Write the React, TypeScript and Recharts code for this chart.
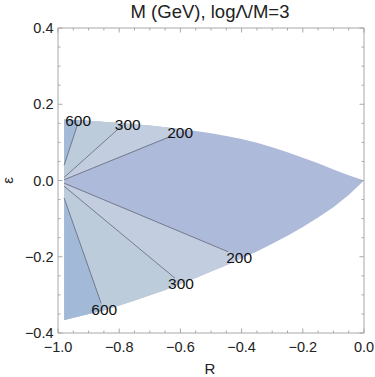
import { ComposedChart, Area, Line, Scatter, XAxis, YAxis, Label } from 'recharts';

// outer boundary of the allowed region
const upperR = [-0.98, -0.9, -0.8, -0.7, -0.6, -0.55, -0.5, -0.45, -0.4, -0.35, -0.3, -0.25, -0.2, -0.15, -0.1, -0.05, 0];
const upperEps = [0.16, 0.157, 0.151, 0.144, 0.135, 0.13, 0.124, 0.117, 0.109, 0.099, 0.087, 0.074, 0.06, 0.045, 0.029, 0.014, 0];
const lowerR = [-0.98, -0.9, -0.85, -0.8, -0.75, -0.7, -0.65, -0.6, -0.55, -0.5, -0.45, -0.4, -0.35, -0.3, -0.25, -0.2, -0.15, -0.1, -0.05, 0];
const lowerEps = [-0.366, -0.35, -0.34, -0.328, -0.315, -0.301, -0.287, -0.271, -0.256, -0.239, -0.222, -0.204, -0.186, -0.166, -0.145, -0.122, -0.097, -0.07, -0.038, 0];

// contours, M in GeV
const levels = ['600', '300', '200'];
const edgeR = -0.98;

// upper half: start on left edge, hit on boundary, visible end, label centre
const upStartEps = [0.04, 0.008, 0.002];
const upHitR = [-0.931, -0.783, -0.58];
const upHitEps = [0.158, 0.149, 0.133];
const upEndR = [-0.936, -0.788, -0.628];
const upEndEps = [0.147, 0.146, 0.117];
const upLabelR = [-0.934, -0.772, -0.601];
const upLabelEps = [0.157, 0.147, 0.127];

// lower half
const lowStartEps = [-0.046, -0.015, -0.007];
const lowHitR = [-0.851, -0.597, -0.395];
const lowHitEps = [-0.34, -0.27, -0.203];
const lowEndR = [-0.859, -0.618, -0.444];
const lowEndEps = [-0.322, -0.256, -0.187];
const lowLabelR = [-0.849, -0.598, -0.408];
const lowLabelEps = [-0.339, -0.269, -0.203];

// ticks
const xTicks = [-1, -0.95, -0.9, -0.85, -0.8, -0.75, -0.7, -0.65, -0.6, -0.55, -0.5, -0.45, -0.4, -0.35, -0.3, -0.25, -0.2, -0.15, -0.1, -0.05, 0];
const xMajor = [-1, -0.8, -0.6, -0.4, -0.2, 0];
const xLabels = ['\u22121.0', '\u22120.8', '\u22120.6', '\u22120.4', '\u22120.2', '0.0'];
const yTicks = [-0.4, -0.35, -0.3, -0.25, -0.2, -0.15, -0.1, -0.05, 0, 0.05, 0.1, 0.15, 0.2, 0.25, 0.3, 0.35, 0.4];
const yMajor = [-0.4, -0.2, 0, 0.2, 0.4];
const yLabels = ['\u22120.4', '\u22120.2', '0.0', '0.2', '0.4'];

// band colours: below 200, 200-300, 300-600, above 600
const BAND = ['#adbad9', '#c3cde0', '#bdccdb', '#a2bad8'];
const LINE = '#5d6070';
const FRAME = '#a8a8a8';
const FONT = 'Liberation Sans, Arial, sans-serif';

const pt = (R: number, e: number) => ({ R, e });

const outline = [
  ...upperR.map((r, i) => pt(r, upperEps[i])),
  ...lowerR.map((r, i) => pt(r, lowerEps[i])).reverse(),
  pt(upperR[0], upperEps[0]),
];

// wedge between a contour and the outer boundary, closed on itself
function wedge(start: number, hitR: number, hitE: number, bR: number[], bE: number[]) {
  const rest = bR.map((r, i) => pt(r, bE[i])).filter((p) => p.R < hitR).reverse();
  return [pt(edgeR, start), pt(hitR, hitE), ...rest, pt(edgeR, start)];
}

// painting order: 200 wedges, then 300, then 600
const wedges = [2, 1, 0].flatMap((k) => [
  { key: `u${k}`, fill: BAND[3 - k], data: wedge(upStartEps[k], upHitR[k], upHitEps[k], upperR, upperEps) },
  { key: `l${k}`, fill: BAND[3 - k], data: wedge(lowStartEps[k], lowHitR[k], lowHitEps[k], lowerR, lowerEps) },
]);

const contourLines = levels.flatMap((lv, k) => [
  { key: `cu${k}`, data: [pt(edgeR, upStartEps[k]), pt(upEndR[k], upEndEps[k])] },
  { key: `cl${k}`, data: [pt(edgeR, lowStartEps[k]), pt(lowEndR[k], lowEndEps[k])] },
]);

const labelPoints = levels.flatMap((lv, k) => [
  { R: upLabelR[k], e: upLabelEps[k], label: lv },
  { R: lowLabelR[k], e: lowLabelEps[k], label: lv },
]);

const findIdx = (list: number[], v: number) => list.findIndex((m) => Math.abs(m - v) < 1e-6);

function BottomTick({ x, y, payload }: any) {
  const i = findIdx(xMajor, payload.value);
  return (
    <g>
      <line x1={x} y1={y} x2={x} y2={y - (i >= 0 ? 4.5 : 2.5)} stroke={FRAME} />
      {i >= 0 && (
        <text x={x} y={y + 19} textAnchor="middle" fontSize={14.5} fontFamily={FONT} fill="#222">
          {xLabels[i]}
        </text>
      )}
    </g>
  );
}

function TopTick({ x, y, payload }: any) {
  const i = findIdx(xMajor, payload.value);
  return <line x1={x} y1={y} x2={x} y2={y + (i >= 0 ? 4.5 : 2.5)} stroke={FRAME} />;
}

function LeftTick({ x, y, payload }: any) {
  const i = findIdx(yMajor, payload.value);
  return (
    <g>
      <line x1={x} y1={y} x2={x + (i >= 0 ? 4.5 : 2.5)} y2={y} stroke={FRAME} />
      {i >= 0 && (
        <text x={x - 4.5} y={y + 5} textAnchor="end" fontSize={14.5} fontFamily={FONT} fill="#222">
          {yLabels[i]}
        </text>
      )}
    </g>
  );
}

function RightTick({ x, y, payload }: any) {
  const i = findIdx(yMajor, payload.value);
  return <line x1={x} y1={y} x2={x - (i >= 0 ? 4.5 : 2.5)} y2={y} stroke={FRAME} />;
}

const renderLabel = (props: any) => (
  <text
    x={props.cx}
    y={props.cy}
    dy="0.36em"
    textAnchor="middle"
    fontSize={15.5}
    fontFamily={FONT}
    fill="#111"
  >
    {props.payload.label}
  </text>
);

export default function App() {
  return (
    <div style={{ position: 'absolute', left: 0, top: 0 }}>
      <ComposedChart width={375} height={377} margin={{ top: 27, right: 10, bottom: 0, left: 0 }}>
        <XAxis
          type="number"
          dataKey="R"
          domain={[-1, 0]}
          allowDataOverflow
          ticks={xTicks}
          interval={0}
          tick={<BottomTick />}
          tickLine={false}
          tickSize={0}
          tickMargin={0}
          axisLine={{ stroke: FRAME }}
          height={44}
        >
          <Label
            content={(p: any) => (
              <text
                x={p.viewBox.x + p.viewBox.width / 2 - 1}
                y={p.viewBox.y + 41}
                textAnchor="middle"
                fontSize={15}
                fontFamily={FONT}
                fill="#222"
              >
                R
              </text>
            )}
          />
        </XAxis>
        <XAxis
          xAxisId="top"
          orientation="top"
          type="number"
          dataKey="R"
          domain={[-1, 0]}
          allowDataOverflow
          ticks={xTicks}
          interval={0}
          tick={<TopTick />}
          tickLine={false}
          tickSize={0}
          tickMargin={0}
          axisLine={{ stroke: FRAME }}
          height={1}
        >
          <Label
            content={(p: any) => (
              <text
                x={p.viewBox.x + p.viewBox.width / 2 - 1}
                y={p.viewBox.y - 9}
                textAnchor="middle"
                fontSize={18.5}
                fontFamily={FONT}
                fill="#222"
              >
                M (GeV), logΛ/M=3
              </text>
            )}
          />
        </XAxis>
        <YAxis
          type="number"
          dataKey="e"
          domain={[-0.4, 0.4]}
          allowDataOverflow
          ticks={yTicks}
          interval={0}
          tick={<LeftTick />}
          tickLine={false}
          tickSize={0}
          tickMargin={0}
          axisLine={{ stroke: FRAME }}
          width={58}
        >
          <Label
            content={(p: any) => {
              const cx = p.viewBox.x + 8;
              const cy = p.viewBox.y + p.viewBox.height / 2;
              return (
                <text
                  x={cx}
                  y={cy}
                  dy="0.35em"
                  textAnchor="middle"
                  transform={`rotate(-90 ${cx} ${cy})`}
                  fontSize={15}
                  fontFamily={FONT}
                  fill="#222"
                >
                  ε
                </text>
              );
            }}
          />
        </YAxis>
        <YAxis
          yAxisId="right"
          orientation="right"
          type="number"
          domain={[-0.4, 0.4]}
          allowDataOverflow
          ticks={yTicks}
          interval={0}
          tick={<RightTick />}
          tickLine={false}
          tickSize={0}
          tickMargin={0}
          axisLine={{ stroke: FRAME }}
          width={1}
        />

        <Area
          data={outline}
          dataKey="e"
          type="linear"
          stroke="none"
          fill={BAND[0]}
          fillOpacity={1}
          dot={false}
          activeDot={false}
          isAnimationActive={false}
        />
        {wedges.map((w) => (
          <Area
            key={w.key}
            data={w.data}
            dataKey="e"
            type="linear"
            stroke="none"
            fill={w.fill}
            fillOpacity={1}
            dot={false}
            activeDot={false}
            isAnimationActive={false}
          />
        ))}
        {contourLines.map((c) => (
          <Line
            key={c.key}
            data={c.data}
            dataKey="e"
            type="linear"
            stroke={LINE}
            strokeWidth={0.75}
            dot={false}
            activeDot={false}
            isAnimationActive={false}
          />
        ))}
        <Scatter
          xAxisId="top"
          yAxisId="right"
          data={labelPoints}
          dataKey="e"
          shape={renderLabel}
          isAnimationActive={false}
        />
      </ComposedChart>
    </div>
  );
}
